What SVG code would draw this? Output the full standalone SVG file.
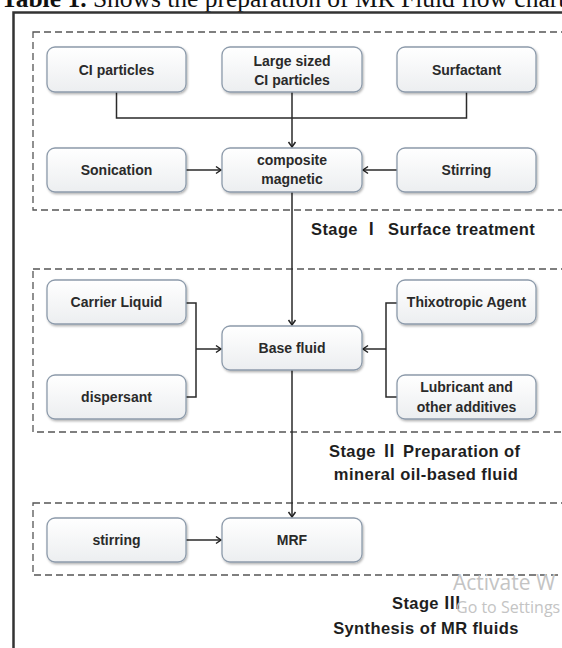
<svg xmlns="http://www.w3.org/2000/svg" width="562" height="648" viewBox="0 0 562 648">
<defs>
<linearGradient id="g" x1="0" y1="0" x2="0" y2="1">
<stop offset="0" stop-color="#ffffff"/>
<stop offset="1" stop-color="#eceef0"/>
</linearGradient>
<filter id="sh" x="-10%" y="-10%" width="130%" height="140%">
<feDropShadow dx="1" dy="1.5" stdDeviation="1.2" flood-color="#000" flood-opacity="0.3"/>
</filter>
<marker id="ar" markerWidth="10" markerHeight="10" refX="8" refY="5" orient="auto" markerUnits="userSpaceOnUse">
<polyline points="3,1.5 8,5 3,8.5" fill="none" stroke="#222" stroke-width="1.5"/>
</marker>
</defs>
<style>
.n rect{fill:url(#g);stroke:#8d9bab;stroke-width:1.3;filter:url(#sh)}
.n text{font-family:"Liberation Sans",Arial,sans-serif;font-weight:bold;font-size:14px;fill:#2a2a2a;text-anchor:middle}
.dash{fill:none;stroke:#555;stroke-width:1.3;stroke-dasharray:7,4}
.c{fill:none;stroke:#2a2a2a;stroke-width:1.5}
.lab{font-family:"Liberation Sans",Arial,"Noto Sans CJK SC",sans-serif;font-weight:bold;font-size:16.5px;letter-spacing:0.4px;fill:#1e1e1e}
.wm{font-family:"Open Sans","Liberation Sans",sans-serif;fill:#c4c4c4}
</style>
<rect width="562" height="648" fill="#fff"/>
<text x="1" y="7" font-family="Liberation Serif,Times New Roman,serif" font-size="25.5" fill="#111"><tspan font-weight="bold">Table 1.</tspan> Shows the preparation of MR Fluid flow chart</text>
<g id="frame">
<path d="M13.5,648 V12.5 H562" fill="none" stroke="#333" stroke-width="2.5"/>
</g>
<g id="stages">
<rect class="dash" x="33" y="32" width="540" height="178"/>
<rect class="dash" x="33" y="269" width="540" height="163"/>
<rect class="dash" x="33" y="503" width="540" height="72"/>
</g>
<g id="connectors">
<path class="c" d="M116.5,92 V118 H466.5 V92"/>
<path class="c" d="M292,92 V147" marker-end="url(#ar)"/>
<path class="c" d="M186,170 H221" marker-end="url(#ar)"/>
<path class="c" d="M397,170 H363" marker-end="url(#ar)"/>
<path class="c" d="M292,192 V325" marker-end="url(#ar)"/>
<path class="c" d="M186,303 H196 V397 H186"/>
<path class="c" d="M196,349 H221" marker-end="url(#ar)"/>
<path class="c" d="M397,303 H386 V397 H397"/>
<path class="c" d="M386,349 H363" marker-end="url(#ar)"/>
<path class="c" d="M292,370 V517" marker-end="url(#ar)"/>
<path class="c" d="M186,540 H221" marker-end="url(#ar)"/>
</g>
<g id="ci" class="n"><rect x="47" y="47" width="139" height="45" rx="8"/><text x="116.5" y="75">CI particles</text></g>
<g id="large" class="n"><rect x="222" y="47" width="140" height="45" rx="8"/><text x="292" y="66">Large sized</text><text x="292" y="85">CI particles</text></g>
<g id="surfactant" class="n"><rect x="397" y="47" width="139" height="45" rx="8"/><text x="466.5" y="75">Surfactant</text></g>
<g id="sonication" class="n"><rect x="47" y="148" width="139" height="44" rx="8"/><text x="116.5" y="175">Sonication</text></g>
<g id="composite" class="n"><rect x="222" y="148" width="140" height="44" rx="8"/><text x="292" y="165">composite</text><text x="292" y="184">magnetic</text></g>
<g id="stirring1" class="n"><rect x="397" y="148" width="139" height="44" rx="8"/><text x="466.5" y="175">Stirring</text></g>
<g id="carrier" class="n"><rect x="47" y="280" width="139" height="44" rx="8"/><text x="116.5" y="306.5">Carrier Liquid</text></g>
<g id="dispersant" class="n"><rect x="47" y="375" width="139" height="44" rx="8"/><text x="116.5" y="401.5">dispersant</text></g>
<g id="base" class="n"><rect x="222" y="326" width="140" height="44" rx="8"/><text x="292" y="353">Base fluid</text></g>
<g id="thixo" class="n"><rect x="397" y="280" width="139" height="44" rx="8"/><text x="466.5" y="306.5">Thixotropic Agent</text></g>
<g id="lubricant" class="n"><rect x="397" y="375" width="139" height="44" rx="8"/><text x="466.5" y="391.5">Lubricant and</text><text x="466.5" y="412">other additives</text></g>
<g id="stirring2" class="n"><rect x="47" y="518" width="139" height="44" rx="8"/><text x="116.5" y="545">stirring</text></g>
<g id="mrf" class="n"><rect x="222" y="518" width="140" height="44" rx="8"/><text x="292" y="545">MRF</text></g>
<g id="labels">
<text class="lab" x="311" y="235">Stage Ⅰ</text>
<text class="lab" x="388" y="235">Surface treatment</text>
<text class="lab" x="329" y="457">Stage Ⅱ</text>
<text class="lab" x="403" y="457">Preparation of</text>
<text class="lab" x="426" y="480" text-anchor="middle">mineral oil-based fluid</text>
<text class="lab" x="392" y="609">Stage Ⅲ</text>
<text class="lab" x="426" y="634" text-anchor="middle">Synthesis of MR fluids</text>
</g>
<g id="watermark">
<text class="wm" x="453" y="590" font-size="21">Activate W</text>
<text class="wm" x="456" y="613" font-size="16">Go to Settings</text>
</g>
</svg>
